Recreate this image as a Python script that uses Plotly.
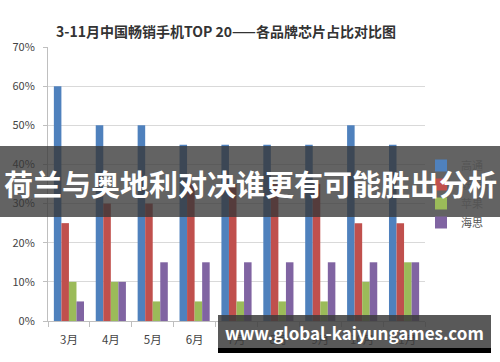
import plotly.graph_objects as go

months = ["3月", "4月", "5月", "6月", "7月", "8月", "9月", "10月", "11月"]
qualcomm = [60, 50, 50, 45, 45, 45, 45, 50, 45]
mediatek = [25, 30, 30, 35, 35, 35, 35, 25, 25]
apple = [10, 10, 5, 5, 5, 5, 5, 10, 15]
hisilicon = [5, 10, 15, 15, 15, 15, 15, 15, 15]
series_names = ["高通", "联发科", "苹果", "海思"]
y_ticks = [0, 10, 20, 30, 40, 50, 60, 70]
y_tick_labels = ["0%", "10%", "20%", "30%", "40%", "50%", "60%", "70%"]

colors = ["#4F81BD", "#C0504D", "#9BBB59", "#8064A2"]
FONT = "Noto Sans CJK SC, Noto Sans, sans-serif"

W, H = 500, 362
L, R, T, B = 48, 75, 47, 41
PW, PH = W - L - R, H - T - B

def px(x):
    return (x - L) / PW

def py(y):
    return (H - B - y) / PH

fig = go.Figure()
for name, vals, c in zip(series_names, [qualcomm, mediatek, apple, hisilicon], colors):
    fig.add_trace(go.Bar(x=months, y=vals, name=name, marker=dict(color=c, line=dict(width=0))))

fig.update_layout(
    width=W, height=H,
    margin=dict(l=L, r=R, t=T, b=B, autoexpand=False),
    paper_bgcolor="white", plot_bgcolor="white",
    barmode="group", bargap=0.28, bargroupgap=0,
    font=dict(family=FONT, size=11, color="#444"),
    showlegend=True,
    legend=dict(x=px(421), y=py(151), xanchor="left", yanchor="top",
                font=dict(size=11, color="#555"), itemwidth=30,
                tracegroupgap=0, bgcolor="rgba(0,0,0,0)"),
    xaxis=dict(showgrid=False, showline=True, linecolor="#BFBFBF", ticks="outside",
               tickcolor="#BFBFBF", ticklen=5, tickson="boundaries",
               ticklabelstandoff=8,
               tickfont=dict(size=11.5, color="#444"), fixedrange=True),
    yaxis=dict(range=[0, 70], tickvals=y_ticks, ticktext=y_tick_labels,
               showgrid=True, gridcolor="#D9D9D9", gridwidth=1,
               showline=True, linecolor="#BFBFBF", ticks="outside", tickcolor="#BFBFBF",
               ticklen=4, ticklabelstandoff=6, zeroline=False,
               tickfont=dict(size=11, color="#444")),
)

fig.add_annotation(text="<b>3-11月中国畅销手机TOP 20——各品牌芯片占比对比图</b>",
                   xref="paper", yref="paper", x=px(54), y=py(31),
                   xanchor="left", yanchor="middle", showarrow=False,
                   font=dict(size=14, color="#333", family=FONT))

# top overlay banner
fig.add_shape(type="rect", xref="paper", yref="paper",
              x0=px(0), x1=px(500), y0=py(146), y1=py(217),
              fillcolor="rgba(55,55,55,0.78)", line=dict(width=0), layer="above")
fig.add_annotation(text="<b>荷兰与奥地利对决谁更有可能胜出分析</b>",
                   xref="paper", yref="paper", x=px(250), y=py(183),
                   xanchor="center", yanchor="middle", showarrow=False,
                   font=dict(size=29, color="white", family=FONT))

# bottom overlay banner
fig.add_shape(type="rect", xref="paper", yref="paper",
              x0=px(218), x1=px(491), y0=py(315), y1=py(348),
              fillcolor="rgba(60,60,60,0.85)", line=dict(width=0), layer="above")
fig.add_shape(type="rect", xref="paper", yref="paper",
              x0=px(218), x1=px(491), y0=py(348), y1=py(353),
              fillcolor="black", line=dict(width=0), layer="above")
fig.add_annotation(text="<b>www.global-kaiyungames.com</b>",
                   xref="paper", yref="paper", x=px(354), y=py(332),
                   xanchor="center", yanchor="middle", showarrow=False,
                   font=dict(size=17, color="white", family=FONT))

fig.write_html("out.html", config={"displayModeBar": False},
               post_script="document.body.style.margin='0';document.body.style.overflow='hidden';")
